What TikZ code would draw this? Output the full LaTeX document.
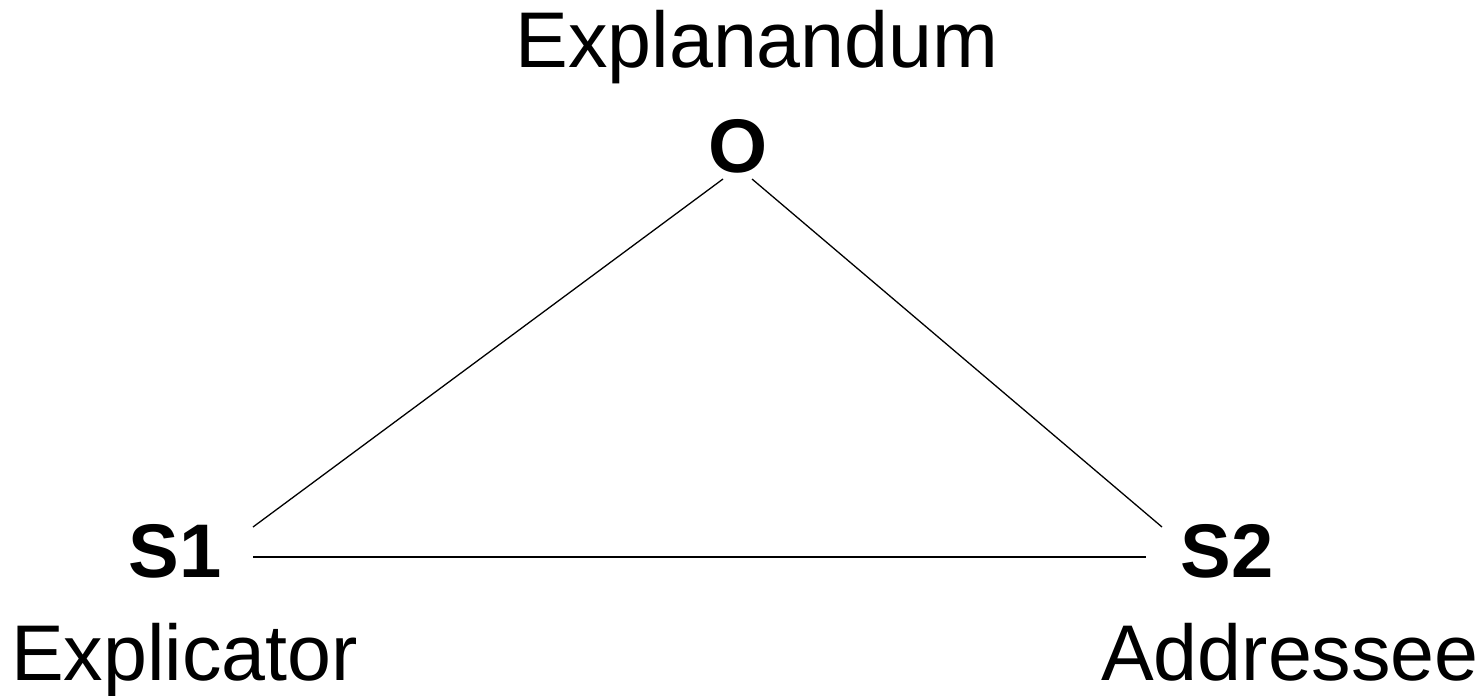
\documentclass[tikz,border=0pt]{standalone}
\usepackage{fontspec}
\setmainfont{Liberation Sans}
\begin{document}
\begin{tikzpicture}[x=1pt,y=-1pt,
  lbl/.style={inner sep=0pt,font=\fontsize{79}{90}\selectfont},
  vtx/.style={inner sep=0pt,font=\fontsize{76}{90}\selectfont\bfseries},
  edge/.style={line width=1.3pt,black}]
\useasboundingbox[fill=white] (0,0) rectangle (1478,696);
\node[lbl,anchor=base] (expl) at (757,67) {Explanandum};
\node[vtx,anchor=base] (O) at (738,172) {O};
\node[vtx,anchor=base] (S1) at (175,577) {S1};
\node[vtx,anchor=base] (S2) at (1227,577) {S2};
\node[lbl,anchor=base west] (explic) at (11,680) {Explicator};
\node[lbl,anchor=base west] (addr) at (1101,680) {Addressee};
\coordinate (OtoS1) at (723,179);
\coordinate (S1toO) at (253,527);
\coordinate (OtoS2) at (752,179);
\coordinate (S2toO) at (1162,527);
\coordinate (S1toS2) at (253,557);
\coordinate (S2toS1) at (1146,557);
\draw[edge] (OtoS1) -- (S1toO);
\draw[edge] (OtoS2) -- (S2toO);
\draw[edge] (S1toS2) -- (S2toS1);
\end{tikzpicture}
\end{document}
